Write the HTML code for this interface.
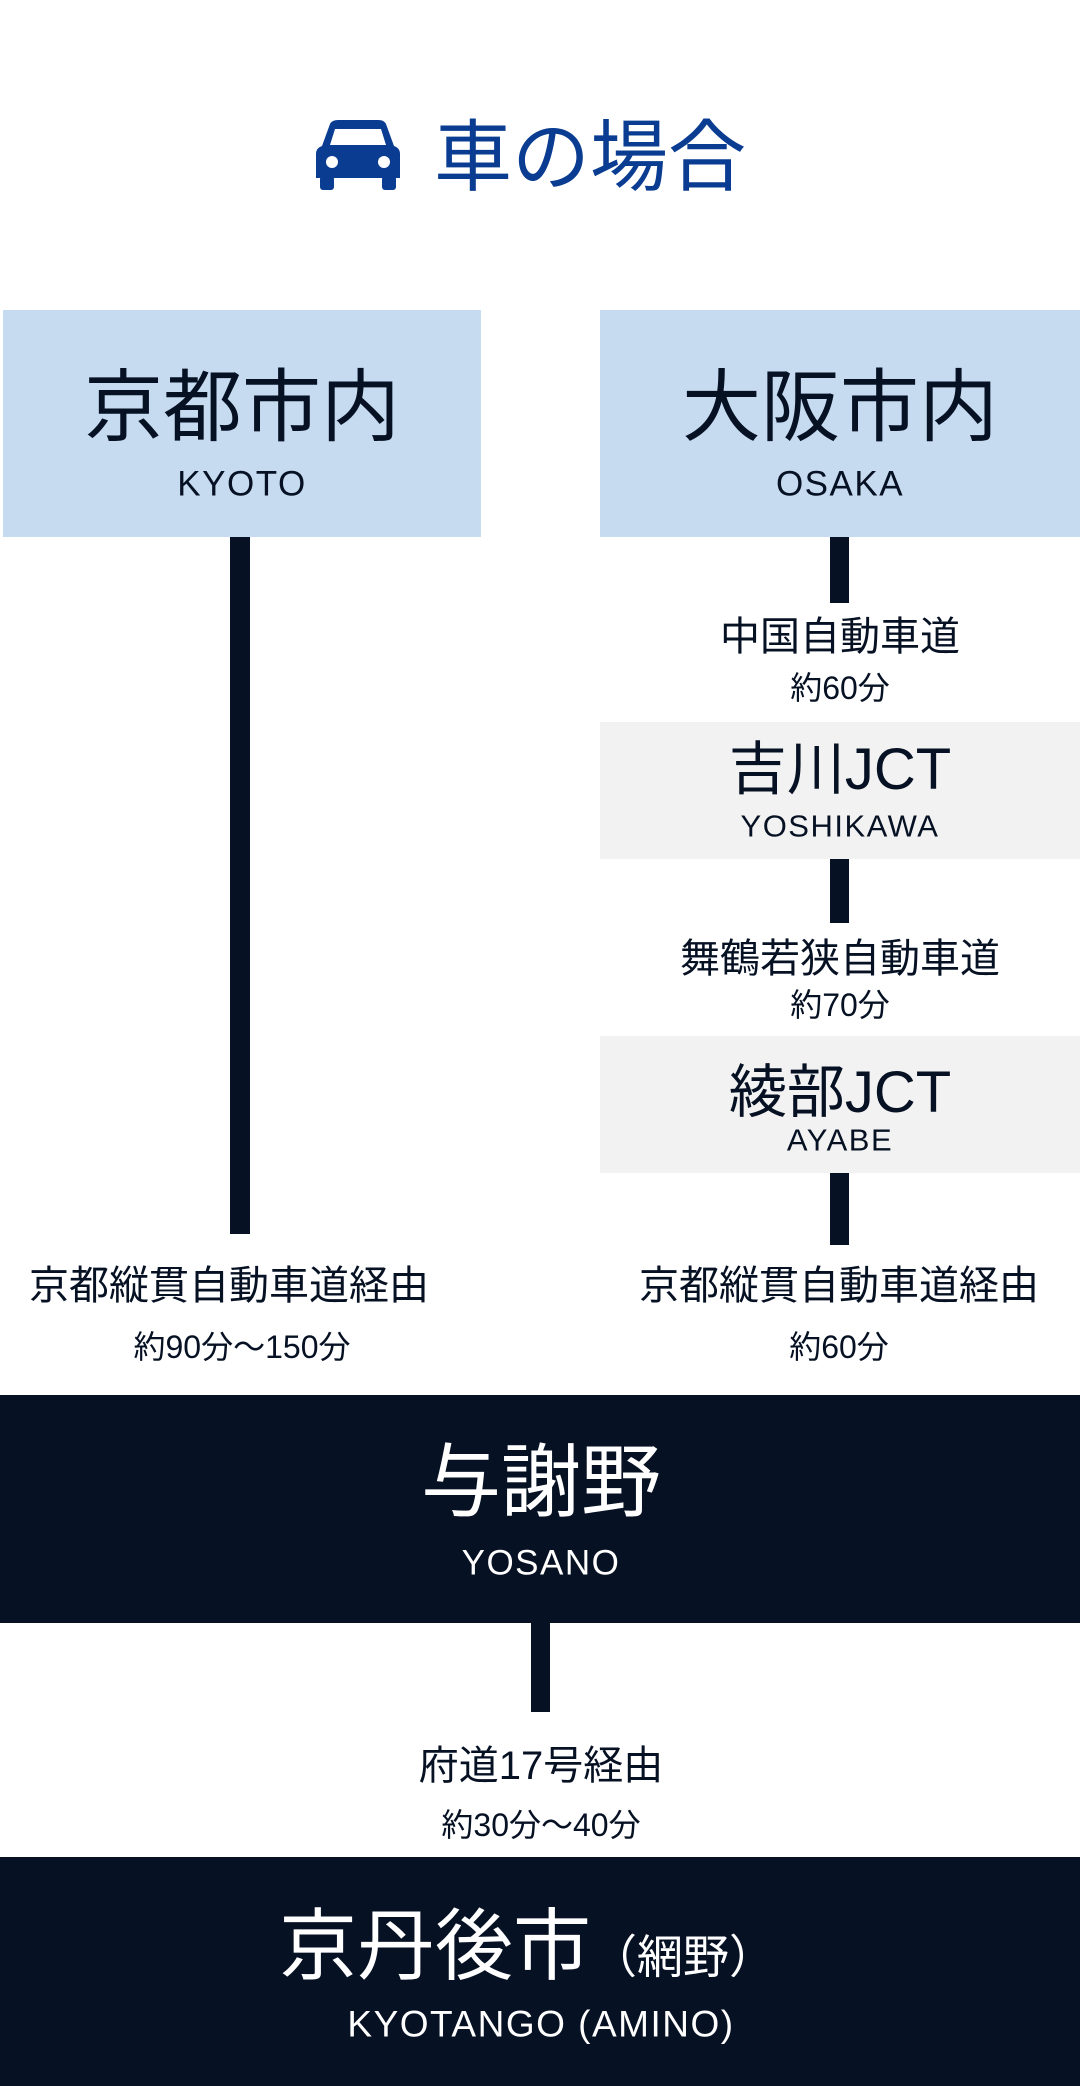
<!DOCTYPE html>
<html><head><meta charset="utf-8"><style>
*{margin:0;padding:0;box-sizing:border-box}
body{width:1080px;height:2086px;position:relative;background:#fff;font-family:"Liberation Sans","Noto Sans CJK JP",sans-serif;color:#061123;overflow:hidden}
.a{position:absolute}
.t{position:absolute;transform:translate(-50%,-50%);white-space:nowrap;line-height:1}
.l{letter-spacing:1.5px}
.bar{position:absolute;background:#061123}
</style></head><body>
<svg class="a" style="left:316px;top:120px" width="84" height="70" viewBox="0 0 84 70">
<path d="M14 4 Q16 0 22 0 H62 Q68 0 70 4 L78 26 Q84 28 84 34 V58 H0 V34 Q0 28 6 26 Z" fill="#0a3d91"/>
<path d="M19 9 H65 L70 25 H14 Z" fill="#fff"/>
<circle cx="16" cy="42" r="6" fill="#fff"/><circle cx="68" cy="42" r="6" fill="#fff"/>
<rect x="4" y="56" width="14" height="14" rx="3" fill="#0a3d91"/><rect x="66" y="56" width="14" height="14" rx="3" fill="#0a3d91"/>
</svg>
<div class="t" style="left:590px;top:157px;font-size:78px;color:#0a3d91">車の場合</div>

<div class="a" style="left:3px;top:310px;width:478px;height:227px;background:#c6daf0"></div>
<div class="a" style="left:600px;top:310px;width:480px;height:227px;background:#c6daf0"></div>
<div class="t" style="left:242px;top:407px;font-size:79px">京都市内</div>
<div class="t l" style="left:242px;top:484px;font-size:35px">KYOTO</div>
<div class="t" style="left:840px;top:407px;font-size:79px">大阪市内</div>
<div class="t l" style="left:840px;top:484px;font-size:35px">OSAKA</div>

<div class="bar" style="left:230px;top:537px;width:20px;height:697px"></div>
<div class="bar" style="left:830px;top:537px;width:19px;height:66px"></div>
<div class="bar" style="left:830px;top:859px;width:19px;height:64px"></div>
<div class="bar" style="left:830px;top:1173px;width:19px;height:72px"></div>

<div class="t" style="left:840px;top:637px;font-size:40px">中国自動車道</div>
<div class="t" style="left:840px;top:688px;font-size:32px">約60分</div>
<div class="a" style="left:600px;top:722px;width:480px;height:137px;background:#f2f2f2"></div>
<div class="t" style="left:840px;top:770px;font-size:58px">吉川JCT</div>
<div class="t l" style="left:840px;top:826px;font-size:31px">YOSHIKAWA</div>
<div class="t" style="left:840px;top:959px;font-size:40px">舞鶴若狭自動車道</div>
<div class="t" style="left:840px;top:1005px;font-size:32px">約70分</div>
<div class="a" style="left:600px;top:1036px;width:480px;height:137px;background:#f2f2f2"></div>
<div class="t" style="left:840px;top:1093px;font-size:58px">綾部JCT</div>
<div class="t l" style="left:840px;top:1140px;font-size:31px">AYABE</div>

<div class="t" style="left:229px;top:1286px;font-size:40px">京都縦貫自動車道経由</div>
<div class="t" style="left:242px;top:1347px;font-size:32px">約90分〜150分</div>
<div class="t" style="left:839px;top:1286px;font-size:40px">京都縦貫自動車道経由</div>
<div class="t" style="left:839px;top:1347px;font-size:32px">約60分</div>

<div class="a" style="left:0;top:1395px;width:1080px;height:228px;background:#061123"></div>
<div class="t" style="left:541px;top:1483px;font-size:80px;color:#fff">与謝野</div>
<div class="t l" style="left:541px;top:1563px;font-size:35px;color:#fff">YOSANO</div>
<div class="bar" style="left:531px;top:1623px;width:19px;height:89px"></div>
<div class="t" style="left:541px;top:1766px;font-size:40px">府道17号経由</div>
<div class="t" style="left:541px;top:1825px;font-size:32px">約30分〜40分</div>

<div class="a" style="left:0;top:1857px;width:1080px;height:229px;background:#061123"></div>
<div class="t" style="left:527px;top:1946px;font-size:78px;color:#fff">京丹後市<span style="font-size:46px">（網野）</span></div>
<div class="t l" style="left:541px;top:2024px;font-size:37px;color:#fff">KYOTANGO (AMINO)</div>
</body></html>
